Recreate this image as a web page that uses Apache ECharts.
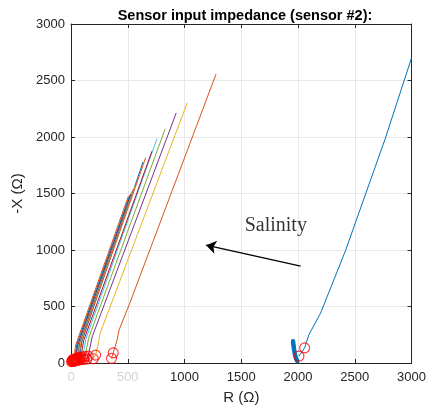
<!DOCTYPE html>
<html>
<head>
<meta charset="utf-8">
<script src="https://cdn.jsdelivr.net/npm/echarts@6/dist/echarts.min.js"></script>
<style>html,body{margin:0;padding:0;background:#fff;}#c{width:429px;height:410px;}</style>
</head>
<body>
<div id="c"></div>
<script>
// ---- data: [R, -X] pairs per measured curve ----
const curve01 = [[2008,61],[2058,134],[2096,251],[2198,440],[2418,994],[2768,1985],[3000,2700]];
const cluster01 = [[1956,192],[1962,140],[1972,80],[1984,35],[1993,17]];
const curve02 = [[357,41],[372,90],[405,200],[424,294],[517,527],[1278,2557]];
const curve03 = [[196,38],[217,70],[240,170],[256,262],[1023,2300]];
const curve04 = [[140,35],[152,61],[170,150],[186,230],[927,2213]];
const curve05 = [[112,32],[125,58],[140,140],[155,220],[830,2073]];
const curve06 = [[92,30],[104,55],[118,135],[130,210],[757,1985]];
const curve07 = [[76,28],[88,50],[100,130],[112,200],[713,1874]];
const curve08 = [[62,26],[74,48],[86,125],[98,195],[635,1780]];
const curve09 = [[52,24],[64,45],[78,120],[90,190],[658,1817]];
const curve10 = [[44,22],[54,42],[70,115],[82,185],[560,1560]];
const curve11 = [[36,20],[46,40],[64,110],[76,180],[548,1535]];
const curve12 = [[28,18],[38,38],[58,105],[70,175],[540,1520]];
const curve13 = [[22,16],[32,35],[52,100],[65,170],[532,1505]];
const curve14 = [[16,15],[26,33],[46,96],[60,165],[526,1495]];
const curve15 = [[10,13],[20,30],[40,92],[50,160],[518,1485]];
const curve16 = [[5,12],[14,28],[32,88],[40,155],[505,1475]];
const xTicks = [0,500,1000,1500,2000,2500,3000];
const yTicks = [0,500,1000,1500,2000,2500,3000];
const arrowFrom = [2023,857];
const arrowTo = [1190,1043];
const labelPos = [1804,1213];
const labelText = 'Salinity';

const palette = ['#0072BD','#D95319','#EDB120','#7E2F8E','#77AC30','#4DBEEE','#A2142F'];
const curves = [curve01,curve02,curve03,curve04,curve05,curve06,curve07,curve08,curve09,curve10,curve11,curve12,curve13,curve14,curve15,curve16];

const FONT = 'Liberation Sans';
const series = [];
curves.forEach((c,i)=>{
  series.push({type:'line', data:c, showSymbol:false, symbol:'none',
    lineStyle:{color:palette[i%7], width:1}, itemStyle:{color:palette[i%7]}, silent:true, z:2+i*0.01});
});
series.push({type:'line', data:cluster01, symbol:'none', lineStyle:{color:palette[0], width:4.5, cap:'round', join:'round'}, silent:true, z:2});
const circles = [];
curves.forEach(c=>{ circles.push(c[0]); circles.push(c[1]); });
series.push({type:'scatter', data:circles, symbol:'circle', symbolSize:10,
  itemStyle:{color:'rgba(0,0,0,0)', borderColor:'#FF0000', borderWidth:1.1}, silent:true, z:5});
series.push({type:'scatter', data:[labelPos], symbolSize:1, itemStyle:{color:'rgba(0,0,0,0)'}, silent:true, z:6,
  label:{show:true, position:'inside', formatter:labelText, color:'#000', fontFamily:'Liberation Serif', fontSize:20},
  markLine:{silent:true, symbol:['none','arrow'], symbolSize:10, animation:false,
    itemStyle:{color:'#000'},
    lineStyle:{color:'#000', width:1.3, type:'solid'}, label:{show:false},
    data:[[{coord:arrowFrom},{coord:arrowTo}]]}});

const axisCol = '#262626';
const chart = echarts.init(document.getElementById('c'));
chart.setOption({
  animation:false,
  backgroundColor:'#fff',
  title:{text:'Sensor input impedance (sensor #2):', left:240, top:3, textAlign:'center',
    textStyle:{fontFamily:FONT, fontWeight:'bold', fontSize:14.5, color:'#000'}},
  grid:{left:71, right:16, top:24, bottom:43, containLabel:false},
  xAxis:[{type:'value', min:xTicks[0], max:xTicks[xTicks.length-1], interval:500, position:'bottom',
    name:'R (Ω)', nameLocation:'middle', nameGap:27,
    nameTextStyle:{fontFamily:FONT, fontSize:15, color:axisCol},
    axisLine:{show:true, onZero:false, lineStyle:{color:axisCol, width:1}},
    axisTick:{show:true, inside:true, length:4, lineStyle:{color:axisCol}},
    axisLabel:{fontFamily:FONT, fontSize:13, margin:8,
      formatter:v=> v<=500 ? '{g|'+v+'}' : '{d|'+v+'}',
      rich:{g:{color:'#d3d3d3', fontFamily:FONT, fontSize:13}, d:{color:axisCol, fontFamily:FONT, fontSize:13}}},
    splitLine:{show:true, lineStyle:{color:'#e8e8e8', width:1}}},
   {type:'value', min:xTicks[0], max:xTicks[xTicks.length-1], interval:500, position:'top',
    axisLine:{show:true, onZero:false, lineStyle:{color:axisCol, width:1}},
    axisTick:{show:true, inside:true, length:4, lineStyle:{color:axisCol}},
    axisLabel:{show:false}, splitLine:{show:false}}],
  yAxis:[{type:'value', min:yTicks[0], max:yTicks[yTicks.length-1], interval:500, position:'left',
    name:'-X (Ω)', nameLocation:'middle', nameGap:39, nameRotate:90,
    nameTextStyle:{fontFamily:FONT, fontSize:15, color:axisCol},
    axisLine:{show:true, onZero:false, lineStyle:{color:axisCol, width:1}},
    axisTick:{show:true, inside:true, length:4, lineStyle:{color:axisCol}},
    axisLabel:{fontFamily:FONT, fontSize:13, color:axisCol, margin:6, formatter:v=>String(v)},
    splitLine:{show:true, lineStyle:{color:'#e8e8e8', width:1}}},
   {type:'value', min:yTicks[0], max:yTicks[yTicks.length-1], interval:500, position:'right',
    axisLine:{show:true, onZero:false, lineStyle:{color:axisCol, width:1}},
    axisTick:{show:true, inside:true, length:4, lineStyle:{color:axisCol}},
    axisLabel:{show:false}, splitLine:{show:false}}],
  series:series
});
</script>
</body>
</html>
